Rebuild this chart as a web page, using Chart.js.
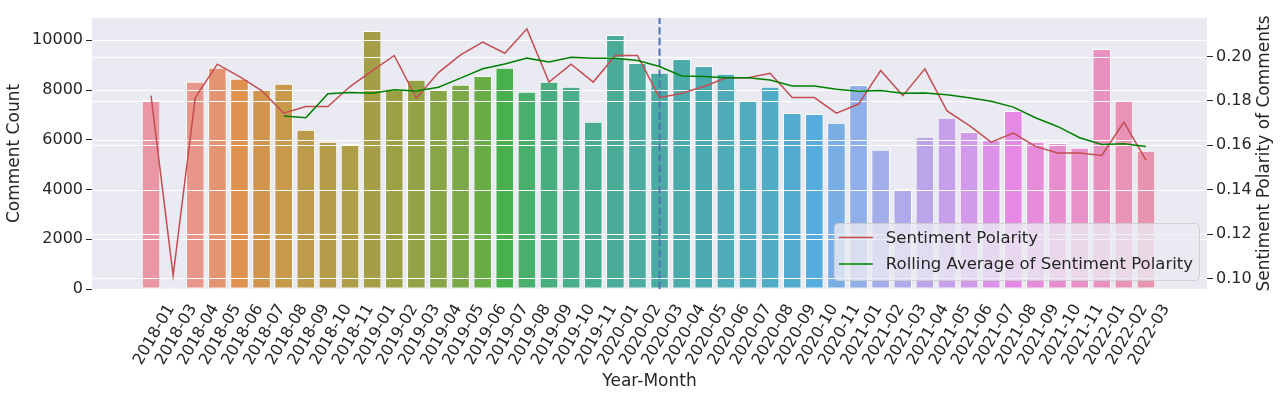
<!DOCTYPE html>
<html>
<head>
<meta charset="utf-8">
<script src="https://cdn.jsdelivr.net/npm/chart.js@4.4.1/dist/chart.umd.min.js"></script>
<style>
  html, body { margin: 0; padding: 0; background: #ffffff; }
  #wrap { width: 1282px; height: 396px; position: relative; }
</style>
</head>
<body>
<div id="wrap"><canvas id="c" width="1282" height="396"></canvas></div>
<script>
// ---------------- data ----------------
const months = [
  '2018-01','2018-03','2018-04','2018-05','2018-06','2018-07','2018-08','2018-09','2018-10','2018-11',
  '2019-01','2019-02','2019-03','2019-04','2019-05','2019-06','2019-07','2019-08','2019-09','2019-10','2019-11',
  '2020-01','2020-02','2020-03','2020-04','2020-05','2020-06','2020-07','2020-08','2020-09','2020-10','2020-11',
  '2021-01','2021-02','2021-03','2021-04','2021-05','2021-06','2021-07','2021-08','2021-09','2021-10','2021-11',
  '2022-01','2022-02','2022-03'
];
const commentCounts = [
  7600, 40, 8330, 8890, 8450, 8020, 8250, 6400, 5920, 5830,
  10370, 8050, 8410, 8010, 8210, 8560, 8890, 7930, 8330, 8130, 6720,
  10210, 9090, 8690, 9250, 8970, 8650, 7570, 8130, 7080, 7040, 6680,
  8200, 5600, 4010, 6120, 6880, 6310, 5980, 7160, 5920, 5870, 5680,
  9650, 7580, 5560
];
const sentimentPolarity = [
  0.1824, 0.1012, 0.1815, 0.1966, 0.1910, 0.1847, 0.1745, 0.1775, 0.1775, 0.1865,
  0.1936, 0.2005, 0.1813, 0.1928, 0.2008, 0.2065, 0.2015, 0.2125, 0.1885, 0.1966, 0.1885,
  0.2005, 0.2005, 0.1815, 0.1835, 0.1865, 0.1903, 0.1905, 0.1925, 0.1815, 0.1815, 0.1745,
  0.1786, 0.1937, 0.1824, 0.1945, 0.1755, 0.1690, 0.1614, 0.1655, 0.1595, 0.1565, 0.1565,
  0.1554, 0.1704, 0.1533
];
const rollingAverage = [
  null, null, null, null, null, null, 0.1732, 0.1724, 0.1832, 0.1838,
  0.1835, 0.1850, 0.1845, 0.1862, 0.1903, 0.1945, 0.1967, 0.1993, 0.1976, 0.1997, 0.1993,
  0.1993, 0.1982, 0.1955, 0.1913, 0.1910, 0.1905, 0.1905, 0.1894, 0.1867, 0.1867, 0.1853,
  0.1844, 0.1847, 0.1835, 0.1836, 0.1828, 0.1814, 0.1799, 0.1772, 0.1724, 0.1685, 0.1634,
  0.1604, 0.1607, 0.1595
];
const countTicks = [0, 2000, 4000, 6000, 8000, 10000];
const polarityTicks = [0.10, 0.12, 0.14, 0.16, 0.18, 0.20];
const markerMonth = '2020-03';

const labelSentiment = 'Sentiment Polarity';
const labelRolling = 'Rolling Average of Sentiment Polarity';
const titleLeft = 'Comment Count';
const titleRight = 'Sentiment Polarity of Comments';
const titleX = 'Year-Month';

// ---------------- colours (seaborn husl palette l=.7, desaturated .75) ----------------
function huslToRgb(H, S, L) {
  const m = [[3.2406, -1.5372, -0.4986], [-0.9689, 1.8758, 0.0415], [0.0557, -0.2040, 1.0570]];
  const refU = 0.19784, refV = 0.46834, labE = 0.008856, labK = 903.3;
  const hrad = H / 180 * Math.PI, sinH = Math.sin(hrad), cosH = Math.cos(hrad);
  const sub1 = Math.pow(L + 16, 3) / 1560896;
  const sub2 = sub1 > labE ? sub1 : L / labK;
  let maxC = Infinity;
  for (const [m1, m2, m3] of m) {
    const top = (0.99915 * m1 + 1.05122 * m2 + 1.14460 * m3) * sub2;
    const rb = 0.86330 * m3 - 0.17266 * m2;
    const lb = 0.12949 * m3 - 0.38848 * m1;
    const bottom = (rb * sinH + lb * cosH) * sub2;
    for (const t of [0, 1]) {
      const C = L * (top - 1.05122 * t) / (bottom + 0.17266 * sinH * t);
      if (C > 0 && C < maxC) maxC = C;
    }
  }
  const C = maxC / 100 * S;
  const U = Math.cos(hrad) * C, V = Math.sin(hrad) * C;
  const t = (L + 16) / 116;
  const varY = Math.pow(t, 3) > labE ? Math.pow(t, 3) : (116 * t - 16) / labK;
  const varU = U / (13 * L) + refU, varV = V / (13 * L) + refV;
  const Y = varY;
  const X = 0 - (9 * Y * varU) / ((varU - 4) * varV - varU * varV);
  const Z = (9 * Y - 15 * varV * Y - varV * X) / (3 * varV);
  return m.map(r => {
    const c = r[0] * X + r[1] * Y + r[2] * Z;
    const v = c <= 0.0031308 ? 12.92 * c : 1.055 * Math.pow(c, 1 / 2.4) - 0.055;
    return Math.min(1, Math.max(0, v));
  });
}
function desaturate([r, g, b], f) {
  const mx = Math.max(r, g, b), mn = Math.min(r, g, b);
  const l = (mx + mn) / 2;
  let h = 0, s = 0;
  if (mx !== mn) {
    const d = mx - mn;
    s = l <= 0.5 ? d / (mx + mn) : d / (2 - mx - mn);
    if (mx === r) h = ((g - b) / d) % 6;
    else if (mx === g) h = (b - r) / d + 2;
    else h = (r - g) / d + 4;
    h /= 6; if (h < 0) h += 1;
  }
  s *= f;
  if (s === 0) return [l, l, l];
  const q = l < 0.5 ? l * (1 + s) : l + s - l * s;
  const p = 2 * l - q;
  const hue = (tt) => {
    if (tt < 0) tt += 1; if (tt > 1) tt -= 1;
    if (tt < 1 / 6) return p + (q - p) * 6 * tt;
    if (tt < 1 / 2) return q;
    if (tt < 2 / 3) return p + (q - p) * (2 / 3 - tt) * 6;
    return p;
  };
  return [hue(h + 1 / 3), hue(h), hue(h - 1 / 3)];
}
function barPalette(n) {
  const out = [];
  for (let i = 0; i < n; i++) {
    const h = ((i / n + 0.01) % 1) * 359;
    const rgb = desaturate(huslToRgb(h, 0.9 * 99, 0.7 * 99), 0.75);
    out.push('rgb(' + rgb.map(v => Math.round(v * 255)).join(',') + ')');
  }
  return out;
}
const barColors = barPalette(months.length);

// ---------------- chart ----------------
const FONT = '"DejaVu Sans", "Liberation Sans", sans-serif';
const TEXT = '#262626';
Chart.defaults.font.family = FONT;
Chart.defaults.color = TEXT;

const gridOverBarsPlugin = {
  id: 'gridOverBars',
  afterDatasetDraw(chart, args) {
    if (args.meta.type !== 'bar') return;
    const ctx = chart.ctx, ca = chart.chartArea;
    const y = chart.scales.y, y2 = chart.scales.y2, x = chart.scales.x;
    ctx.save();
    ctx.strokeStyle = '#ffffff';
    ctx.lineWidth = 1;
    const hline = (py) => {
      py = Math.round(py) + 0.5;
      ctx.beginPath(); ctx.moveTo(ca.left, py); ctx.lineTo(ca.right, py); ctx.stroke();
    };
    countTicks.forEach(v => hline(y.getPixelForValue(v)));
    polarityTicks.forEach(v => hline(y2.getPixelForValue(v)));
    const px = x.getPixelForValue(months.indexOf(markerMonth));
    ctx.strokeStyle = '#4c72b0';
    ctx.lineWidth = 2;
    ctx.setLineDash([7.4, 3.2]);
    ctx.beginPath(); ctx.moveTo(px, ca.bottom); ctx.lineTo(px, ca.top); ctx.stroke();
    ctx.restore();
  }
};

const overlayPlugin = {
  id: 'overlay',
  afterDraw(chart) {
    const ctx = chart.ctx, ca = chart.chartArea;
    // right axis title, rotated bottom-to-top
    ctx.save();
    ctx.font = '17px ' + FONT;
    ctx.fillStyle = TEXT;
    ctx.textAlign = 'center';
    ctx.textBaseline = 'middle';
    ctx.translate(chart.scales.y2.right - 17, (ca.top + ca.bottom) / 2);
    ctx.rotate(-Math.PI / 2);
    ctx.fillText(titleRight, 0, 0);
    ctx.restore();

    // legend
    const items = chart.data.datasets.filter(d => d.type === 'line');
    ctx.save();
    ctx.font = '16.5px ' + FONT;
    const maxW = Math.max(...items.map(d => ctx.measureText(d.label).width));
    const boxRight = ca.right - 8, boxBottom = ca.bottom - 9;
    const textStart = boxRight - 6 - maxW;
    const lineEnd = textStart - 13, lineStart = lineEnd - 34;
    const boxLeft = lineStart - 5, boxTop = boxBottom - 57;
    ctx.beginPath();
    ctx.roundRect(boxLeft + 0.5, boxTop + 0.5, boxRight - boxLeft, boxBottom - boxTop, 4);
    ctx.fillStyle = 'rgba(234,234,242,0.8)';
    ctx.fill();
    ctx.strokeStyle = 'rgba(204,204,204,0.8)';
    ctx.lineWidth = 1;
    ctx.stroke();
    items.forEach((d, i) => {
      const ry = boxTop + 14.5 + i * 26.6;
      ctx.strokeStyle = d.borderColor;
      ctx.lineWidth = 1.5;
      ctx.beginPath(); ctx.moveTo(lineStart, ry); ctx.lineTo(lineEnd, ry); ctx.stroke();
      ctx.fillStyle = TEXT;
      ctx.textAlign = 'left';
      ctx.textBaseline = 'middle';
      ctx.fillText(d.label, textStart, ry + 1);
    });
    ctx.restore();
  }
};

const plotBg = {
  id: 'plotBg',
  beforeDraw(chart) {
    const ctx = chart.ctx, ca = chart.chartArea;
    ctx.save();
    ctx.fillStyle = '#ffffff';
    ctx.fillRect(0, 0, chart.width, chart.height);
    ctx.fillStyle = '#eaeaf2';
    ctx.fillRect(ca.left, ca.top, ca.right - ca.left, ca.bottom - ca.top);
    ctx.restore();
  }
};

new Chart(document.getElementById('c'), {
  data: {
    datasets: [
      {
        type: 'bar',
        label: titleLeft,
        data: commentCounts.map((v, i) => ({ x: i, y: v })),
        backgroundColor: barColors,
        borderColor: '#ffffff',
        borderWidth: 1,
        borderSkipped: false,
        barPercentage: 0.84,
        categoryPercentage: 1.0,
        yAxisID: 'y',
        order: 3
      },
      {
        type: 'line',
        label: labelSentiment,
        data: sentimentPolarity.map((v, i) => ({ x: i, y: v })),
        borderColor: '#c44e52',
        borderWidth: 1.5,
        pointRadius: 0,
        tension: 0,
        fill: false,
        yAxisID: 'y2',
        order: 1
      },
      {
        type: 'line',
        label: labelRolling,
        data: rollingAverage.map((v, i) => ({ x: i, y: v })),
        borderColor: '#008000',
        borderWidth: 1.5,
        pointRadius: 0,
        tension: 0,
        fill: false,
        spanGaps: false,
        yAxisID: 'y2',
        order: 0
      }
    ]
  },
  options: {
    responsive: false,
    animation: false,
    layout: { padding: { top: 18, left: 0, right: 0, bottom: 0 } },
    plugins: { legend: { display: false }, tooltip: { enabled: false } },
    scales: {
      x: {
        type: 'linear',
        min: -2.67,
        max: 47.76,
        offset: false,
        afterBuildTicks: (s) => { s.ticks = months.map((m, i) => ({ value: i })); },
        afterFit: (s) => { s.height = 107; },
        ticks: {
          autoSkip: false,
          maxRotation: 60,
          minRotation: 60,
          labelOffset: 20,
          padding: 12,
          font: { size: 16 },
          color: TEXT,
          callback: (v) => months[v] !== undefined ? months[v] : ''
        },
        grid: { display: false, drawTicks: false },
        border: { display: false },
        title: { display: true, text: titleX, font: { size: 17 }, color: TEXT }
      },
      y: {
        type: 'linear',
        position: 'left',
        min: 0,
        max: 10895,
        afterBuildTicks: (s) => { s.ticks = countTicks.map(v => ({ value: v })); },
        afterFit: (s) => { s.width = 92; },
        ticks: { font: { size: 16 }, color: TEXT, padding: 3, callback: (v) => String(v) },
        grid: { drawOnChartArea: false, drawTicks: true, tickLength: 6, tickColor: TEXT, tickWidth: 1 },
        border: { display: false },
        title: { display: true, text: titleLeft, font: { size: 17 }, color: TEXT }
      },
      y2: {
        type: 'linear',
        position: 'right',
        min: 0.0952,
        max: 0.2174,
        afterBuildTicks: (s) => { s.ticks = polarityTicks.map(v => ({ value: v })); },
        afterFit: (s) => { s.width = 75; },
        ticks: { font: { size: 16 }, color: TEXT, padding: 3, callback: (v) => v.toFixed(2) },
        grid: { drawOnChartArea: false, drawTicks: true, tickLength: 6, tickColor: TEXT, tickWidth: 1 },
        border: { display: false },
        title: { display: false }
      }
    }
  },
  plugins: [plotBg, gridOverBarsPlugin, overlayPlugin]
});
</script>
</body>
</html>
